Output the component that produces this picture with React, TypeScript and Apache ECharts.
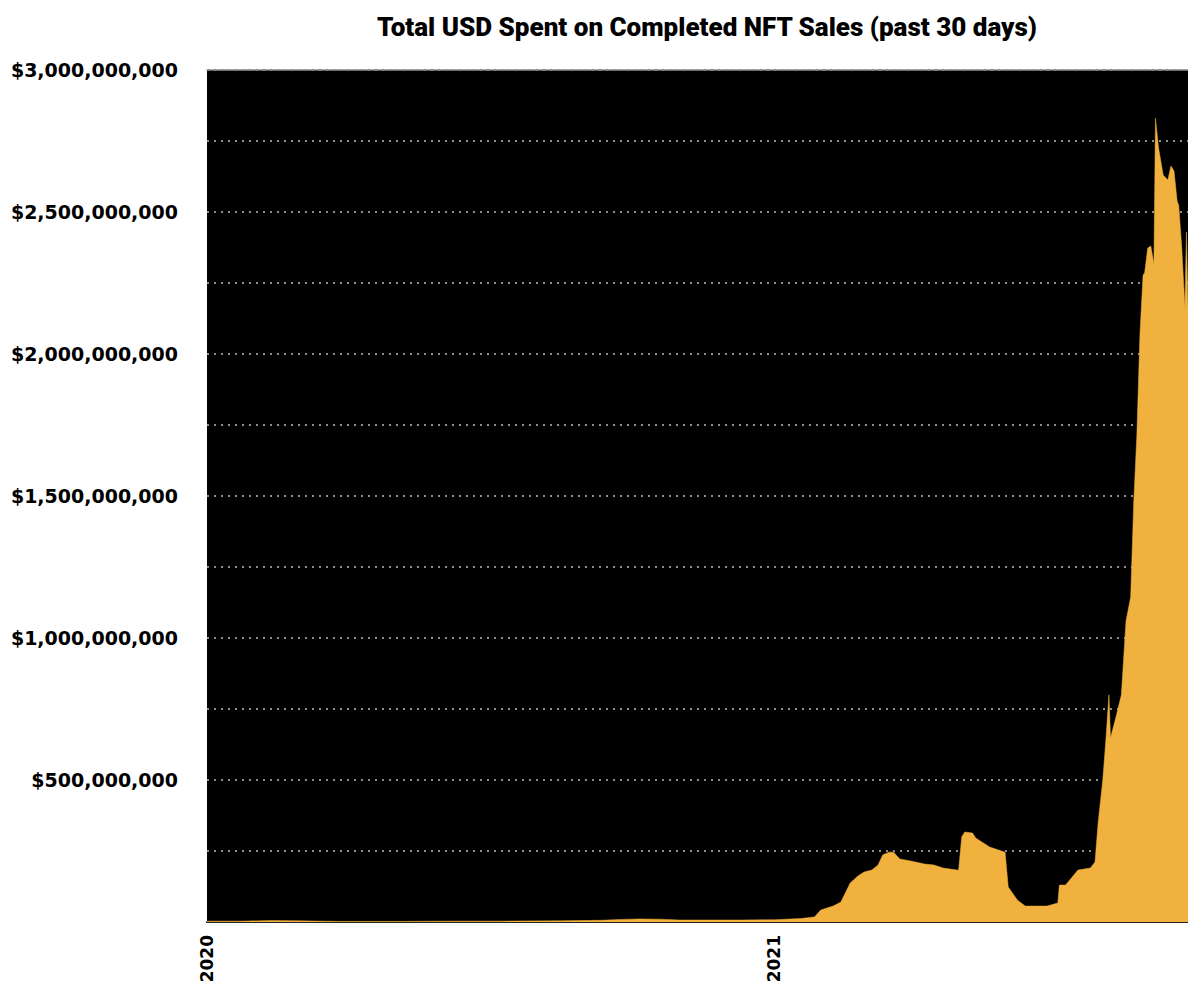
import React, { useEffect, useRef } from "react";
import * as echarts from "echarts";

const TITLE = "Total USD Spent on Completed NFT Sales (past 30 days)";

const dates: string[] = [
  "2020-01-01", "2020-01-22", "2020-02-11", "2020-03-01", "2020-03-27", "2020-05-05",
  "2020-06-06", "2020-07-08", "2020-08-16", "2020-09-11", "2020-09-24", "2020-10-06",
  "2020-10-19", "2020-11-01", "2020-11-14", "2020-12-10", "2021-01-01", "2021-01-18",
  "2021-01-27", "2021-01-31", "2021-02-08", "2021-02-13", "2021-02-19", "2021-02-24",
  "2021-02-28", "2021-03-05", "2021-03-09", "2021-03-12", "2021-03-16", "2021-03-19",
  "2021-03-23", "2021-03-30", "2021-04-05", "2021-04-08", "2021-04-14", "2021-04-20",
  "2021-04-29", "2021-04-30", "2021-05-02", "2021-05-04", "2021-05-09", "2021-05-11",
  "2021-05-20", "2021-05-30", "2021-06-01", "2021-06-07", "2021-06-12", "2021-06-26",
  "2021-07-03", "2021-07-04", "2021-07-08", "2021-07-16", "2021-07-24", "2021-07-27",
  "2021-07-29", "2021-08-01", "2021-08-03", "2021-08-05", "2021-08-06", "2021-08-10",
  "2021-08-13", "2021-08-16", "2021-08-19", "2021-08-21", "2021-08-23", "2021-08-25",
  "2021-08-27", "2021-08-28", "2021-08-30", "2021-09-01", "2021-09-03", "2021-09-04",
  "2021-09-06", "2021-09-09", "2021-09-12", "2021-09-14", "2021-09-16", "2021-09-18",
  "2021-09-19", "2021-09-21", "2021-09-23", "2021-09-24", "2021-09-25",
];

// USD spent, in millions
const usdMillions: number[] = [
  3, 3, 5, 4, 2, 2,
  3, 3, 4, 6, 9, 11,
  10, 7, 7, 7, 8, 12,
  18, 42, 56, 70, 137, 162,
  176, 183, 201, 236, 246, 246,
  222, 215, 208, 204, 201, 190,
  183, 183, 300, 317, 313, 296,
  264, 246, 123, 77, 56, 56,
  67, 130, 130, 183, 190, 211,
  349, 500, 641, 800, 648, 732,
  800, 1060, 1144, 1479, 1715, 2070,
  2278, 2285, 2373, 2380, 2317, 2831,
  2725, 2630, 2613, 2662, 2644, 2538,
  2524, 2373, 2165, 2430, 2165,
];

const X_MIN = "2020-01-01";
const X_MAX = "2021-09-25";
const Y_MAX = 3000000000;
const Y_STEP = 250000000;
const Y_LABEL_STEP = 500000000;

const fmtUSD = (v: number) => "$" + Math.round(v).toLocaleString("en-US");

export default function App() {
  const ref = useRef<HTMLDivElement>(null);
  useEffect(() => {
    if (!ref.current) return;
    const chart = echarts.init(ref.current, null, { renderer: "svg" });
    const data = dates.map((d, i) => [d, usdMillions[i] * 1e6]);
    chart.setOption({
      animation: false,
      backgroundColor: "#ffffff",
      title: {
        text: TITLE,
        left: 702,
        top: 9,
        textAlign: "center",
        textStyle: {
          fontFamily: "Roboto",
          fontWeight: 900,
          fontSize: 26,
          color: "#000",
        },
      },
      grid: {
        left: 207,
        right: 0,
        top: 70,
        bottom: 65,
        show: true,
        backgroundColor: "#000000",
        borderWidth: 0,
        containLabel: false,
        outerBoundsMode: "none",
      },
      xAxis: [
        {
          type: "time",
          min: X_MIN,
          max: X_MAX,
          axisLine: { show: true, lineStyle: { color: "#222", width: 2 } },
          axisTick: { show: false },
          splitLine: { show: false },
          axisLabel: {
            rotate: 90,
            margin: 13,
            showMinLabel: true,
            hideOverlap: false,
            fontFamily: "DejaVu Sans",
            fontWeight: "bold",
            fontSize: 17,
            color: "#000",
            formatter: (val: number) => {
              const d = new Date(val);
              return d.getMonth() === 0 && d.getDate() === 1 ? String(d.getFullYear()) : "";
            },
          },
        },
        {
          type: "time",
          position: "top",
          min: X_MIN,
          max: X_MAX,
          axisLine: { show: true, lineStyle: { color: "#8a8a8a", width: 1.5 } },
          axisTick: { show: false },
          axisLabel: { show: false },
          splitLine: { show: false },
        },
      ],
      yAxis: {
        type: "value",
        min: 0,
        max: Y_MAX,
        interval: Y_STEP,
        axisLine: { show: false },
        axisTick: { show: false },
        splitLine: {
          show: true,
          lineStyle: { color: "#8c8c8c", width: 2, type: [2, 5] },
        },
        axisLabel: {
          margin: 29,
          fontFamily: "DejaVu Sans",
          fontWeight: "bold",
          fontSize: 19,
          color: "#000",
          formatter: (v: number) => (v > 0 && v % Y_LABEL_STEP === 0 ? fmtUSD(v) : ""),
        },
      },
      series: [
        {
          type: "line",
          data,
          showSymbol: false,
          symbol: "none",
          lineStyle: { width: 0.5, color: "#F1B13E" },
          areaStyle: { color: "#F1B13E", opacity: 1 },
          z: 3,
        },
      ],
    });
    return () => chart.dispose();
  }, []);
  return (
    <div
      ref={ref}
      style={{ position: "fixed", left: 0, top: 0, width: 1188, height: 987 }}
    />
  );
}
